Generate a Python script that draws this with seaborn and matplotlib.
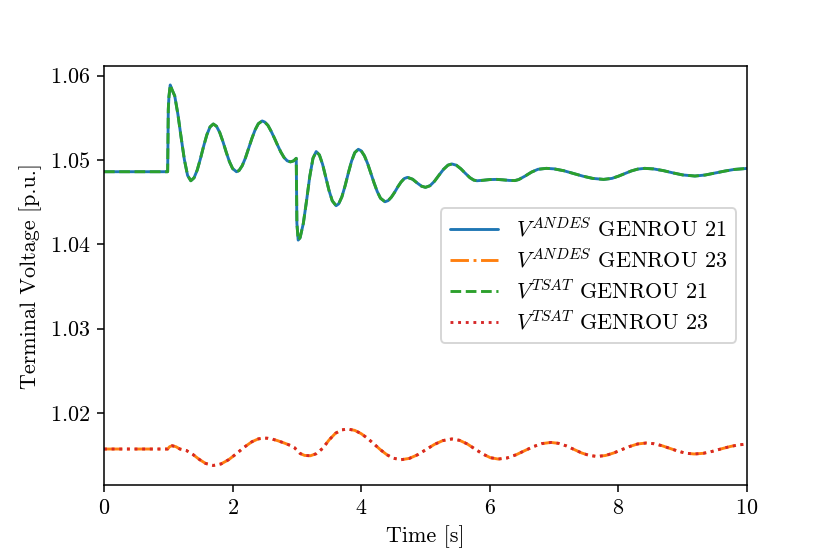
import matplotlib
matplotlib.use("Agg")
import matplotlib.pyplot as plt
import seaborn as sns
import pandas as pd

# ---- data ----
t21 = [0.00, 0.99, 1.00, 1.01, 1.03, 1.06, 1.10, 1.15, 1.20, 1.25, 1.30, 1.35,
       1.40, 1.45, 1.50, 1.55, 1.60, 1.65, 1.70, 1.75, 1.80, 1.85, 1.90, 1.95,
       2.00, 2.06, 2.10, 2.15, 2.20, 2.25, 2.30, 2.35, 2.40, 2.46, 2.50, 2.55,
       2.60, 2.65, 2.70, 2.75, 2.80, 2.85, 2.90, 2.95, 2.99, 3.00, 3.02, 3.05,
       3.10, 3.15, 3.20, 3.25, 3.30, 3.35, 3.40, 3.45, 3.50, 3.55, 3.61, 3.65,
       3.70, 3.75, 3.80, 3.85, 3.90, 3.955, 4.00, 4.05, 4.10, 4.15, 4.20, 4.25,
       4.30, 4.37, 4.42, 4.47, 4.52, 4.57, 4.62, 4.67, 4.72, 4.80, 4.87, 4.94,
       5.00, 5.07, 5.14, 5.21, 5.28, 5.35, 5.41, 5.48, 5.55, 5.62, 5.69, 5.75,
       5.80, 5.90, 6.00, 6.11, 6.20, 6.30, 6.39, 6.45, 6.55, 6.65, 6.75, 6.88,
       7.00, 7.15, 7.30, 7.45, 7.60, 7.77, 7.90, 8.00, 8.10, 8.20, 8.30, 8.41,
       8.55, 8.70, 8.85, 9.00, 9.19, 9.35, 9.50, 9.65, 9.80, 10.00]
v21_andes = [1.04861, 1.04861, 1.05600, 1.05750, 1.05890, 1.05830, 1.05760, 1.05539,
             1.05265, 1.05004, 1.04817, 1.04754, 1.04788, 1.04881, 1.05016, 1.05165,
             1.05300, 1.05393, 1.05427, 1.05400, 1.05326, 1.05218, 1.05095, 1.04982,
             1.04899, 1.04861, 1.04875, 1.04933, 1.05025, 1.05139, 1.05255, 1.05357,
             1.05430, 1.05463, 1.05450, 1.05410, 1.05340, 1.05260, 1.05175, 1.05095,
             1.05030, 1.04990, 1.04978, 1.04990, 1.05020, 1.04250, 1.04050, 1.04079,
             1.04248, 1.04516, 1.04803, 1.05020, 1.05100, 1.05060, 1.04948, 1.04795,
             1.04638, 1.04516, 1.04458, 1.04480, 1.04564, 1.04695, 1.04846, 1.04986,
             1.05087, 1.05127, 1.05109, 1.05050, 1.04958, 1.04845, 1.04729, 1.04625,
             1.04547, 1.04505, 1.04519, 1.04560, 1.04617, 1.04682, 1.04739, 1.04780,
             1.04794, 1.04772, 1.04728, 1.04689, 1.04676, 1.04695, 1.04748, 1.04820,
             1.04889, 1.04939, 1.04953, 1.04938, 1.04896, 1.04842, 1.04791, 1.04762,
             1.04754, 1.04760, 1.04768, 1.04770, 1.04765, 1.04758, 1.04756, 1.04768,
             1.04810, 1.04857, 1.04890, 1.04901, 1.04895, 1.04873, 1.04841, 1.04808,
             1.04782, 1.04770, 1.04782, 1.04808, 1.04839, 1.04870, 1.04892, 1.04901,
             1.04894, 1.04874, 1.04847, 1.04823, 1.04810, 1.04822, 1.04845, 1.04868,
             1.04888, 1.04900]
v21_tsat = list(v21_andes)

t23 = [0.00, 0.99, 1.02, 1.06, 1.12, 1.18, 1.28, 1.38, 1.48, 1.58, 1.70, 1.82,
       1.94, 2.06, 2.18, 2.30, 2.40, 2.49, 2.55, 2.62, 2.70, 2.80, 2.90, 2.96,
       3.00, 3.05, 3.12, 3.21, 3.30, 3.40, 3.50, 3.60, 3.70, 3.79, 3.90, 4.00,
       4.10, 4.20, 4.30, 4.40, 4.50, 4.62, 4.75, 4.88, 5.01, 5.14, 5.27, 5.41,
       5.53, 5.65, 5.77, 5.89, 6.01, 6.13, 6.27, 6.41, 6.55, 6.68, 6.81, 6.95,
       7.07, 7.19, 7.31, 7.43, 7.55, 7.67, 7.80, 7.93, 8.06, 8.18, 8.30, 8.43,
       8.55, 8.68, 8.81, 8.93, 9.05, 9.18, 9.32, 9.46, 9.60, 9.74, 9.87, 10.00]
v23_andes = [1.01573, 1.01573, 1.01600, 1.01612, 1.01600, 1.01573, 1.01556, 1.01510,
             1.01451, 1.01402, 1.01378, 1.01396, 1.01447, 1.01518, 1.01594, 1.01659,
             1.01693, 1.01703, 1.01700, 1.01690, 1.01672, 1.01645, 1.01615, 1.01590,
             1.01560, 1.01520, 1.01497, 1.01493, 1.01517, 1.01580, 1.01680, 1.01760,
             1.01800, 1.01810, 1.01794, 1.01755, 1.01699, 1.01632, 1.01564, 1.01505,
             1.01464, 1.01446, 1.01462, 1.01506, 1.01567, 1.01628, 1.01673, 1.01692,
             1.01676, 1.01633, 1.01573, 1.01514, 1.01470, 1.01454, 1.01467, 1.01505,
             1.01556, 1.01602, 1.01637, 1.01651, 1.01640, 1.01610, 1.01568, 1.01526,
             1.01496, 1.01485, 1.01496, 1.01527, 1.01568, 1.01604, 1.01633, 1.01644,
             1.01636, 1.01612, 1.01578, 1.01547, 1.01523, 1.01514, 1.01522, 1.01545,
             1.01575, 1.01603, 1.01622, 1.01632]
v23_tsat = list(v23_andes)

labels = [r"$V^{ANDES}$ GENROU 21", r"$V^{ANDES}$ GENROU 23",
          r"$V^{TSAT}$ GENROU 21", r"$V^{TSAT}$ GENROU 23"]
x_label = "Time [s]"
y_label = "Terminal Voltage [p.u.]"

# ---- style ----
sns.set_style("ticks")
plt.rcParams.update({
    "font.family": ["serif"],
    "font.serif": ["cmr10", "DejaVu Serif"],
    "mathtext.fontset": "cm",
    "axes.formatter.use_mathtext": True,
    "font.size": 11.5,
    "axes.edgecolor": "black",
    "xtick.color": "black",
    "ytick.color": "black",
    "axes.labelcolor": "black",
    "text.color": "black",
    "axes.linewidth": 0.8,
    "xtick.major.size": 3.5,
    "ytick.major.size": 3.5,
    "xtick.major.width": 0.8,
    "ytick.major.width": 0.8,
})

fig = plt.figure(figsize=(6.0, 4.005), dpi=138.33)
ax = fig.add_axes([0.1253, 0.1245, 0.9 - 0.1253, 0.8809 - 0.1245])

pal = sns.color_palette("tab10")
sns.lineplot(x=t21, y=v21_andes, ax=ax, color=pal[0], ls="-", lw=1.5, label=labels[0])
sns.lineplot(x=t23, y=v23_andes, ax=ax, color=pal[1], ls="-.", lw=1.5, label=labels[1])
sns.lineplot(x=t21, y=v21_tsat, ax=ax, color=pal[2], ls="--", lw=1.5, label=labels[2])
sns.lineplot(x=t23, y=v23_tsat, ax=ax, color=pal[3], ls=":", lw=1.5, label=labels[3])

ax.set_xlim(0, 10)
ax.set_ylim(1.01146, 1.06115)
ax.set_xticks([0, 2, 4, 6, 8, 10])
ax.set_yticks([1.02, 1.03, 1.04, 1.05, 1.06])
ax.ticklabel_format(axis="y", useOffset=False)
ax.set_xlabel(x_label)
ax.set_ylabel(y_label)
for s in ax.spines.values():
    s.set_visible(True)

ax.legend(loc="center right", frameon=True, fancybox=True, framealpha=0.8,
          edgecolor="0.8", handlelength=2.2, labelspacing=0.33)

fig.savefig("out.png", dpi=138.33)
